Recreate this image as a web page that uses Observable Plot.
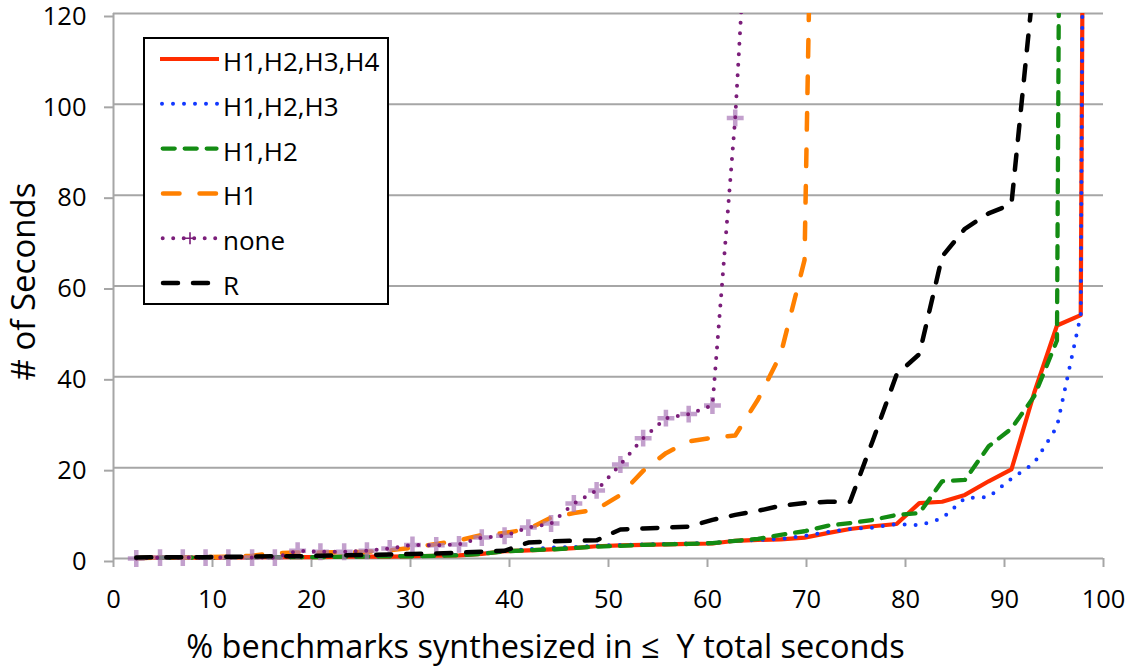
<!DOCTYPE html>
<html>
<head>
<meta charset="utf-8">
<script src="https://cdn.jsdelivr.net/npm/d3@7"></script>
<script src="https://cdn.jsdelivr.net/npm/@observablehq/plot@0.6"></script>
<style>
  html, body { margin: 0; padding: 0; background: #fff; }
  #wrap { position: relative; width: 1136px; height: 666px; font-family: "Open Sans", sans-serif; }
  #legend { position: absolute; left: 143px; top: 37px; }
</style>
</head>
<body>
<div id="wrap"></div>
<script>
// ---- data ----
const pct = [2.3, 4.7, 7.0, 9.3, 11.6, 14.0, 16.3, 18.6, 20.9, 23.3, 25.6, 27.9, 30.2,
             32.6, 34.9, 37.2, 39.5, 41.9, 44.2, 46.5, 48.8, 51.2, 53.5, 55.8, 58.1, 60.5,
             62.8, 65.1, 67.4, 69.8, 72.1, 74.4, 76.7, 79.1, 81.4, 83.7, 86.0, 88.4, 90.7,
             93.0, 95.3, 97.7, 100];
const seriesNames = ["H1,H2,H3,H4", "H1,H2,H3", "H1,H2", "H1", "none", "R"];
const h1234 = [0.1,0.2,0.2,0.2,0.2,0.3,0.3,0.3,0.3,0.4,0.4,0.4,0.5,
               0.6,0.7,1.0,1.6,1.8,2.0,2.3,2.7,2.9,3.0,3.1,3.2,3.3,
               3.9,4.1,4.2,4.6,5.6,6.5,7.1,7.6,12.2,12.5,14.0,17.0,19.6,36.5,51.3,53.6,1000];
const h123  = [0.1,0.2,0.2,0.2,0.2,0.3,0.3,0.3,0.3,0.4,0.4,0.5,0.5,
               0.6,0.8,1.1,1.7,2.0,2.4,2.5,2.8,3.0,3.1,3.2,3.3,3.4,
               3.9,4.1,4.3,5.0,5.8,6.5,6.8,7.6,7.3,8.8,13.3,13.5,17.6,21.0,29.0,53.6,1000];
const h12   = [0.1,0.2,0.2,0.2,0.2,0.3,0.3,0.3,0.3,0.4,0.4,0.5,0.5,
               0.6,0.7,1.0,1.6,1.8,2.0,2.3,2.6,2.8,3.0,3.1,3.2,3.4,
               3.9,4.3,5.2,6.0,7.2,7.8,8.5,9.6,10.0,17.0,17.3,24.7,28.6,35.7,48.0,1000];
const h1    = [0.1,0.2,0.2,0.3,0.4,0.6,1.2,1.3,1.3,1.4,1.5,1.8,2.4,
               3.2,4.0,5.2,5.6,6.5,9.0,10.0,10.8,14.0,19.3,23.2,25.8,26.6,
               27.1,35.0,45.0,65.7,350];
const none  = [0.0,0.2,0.2,0.2,0.2,0.2,0.2,1.7,1.5,1.5,1.7,2.2,3.0,
               2.9,3.1,4.6,5.0,6.8,7.7,12.1,15.0,20.7,26.5,30.9,31.8,33.7,
               97.0,186];
const rSer  = [0.2,0.3,0.3,0.3,0.4,0.4,0.5,0.5,0.6,0.7,0.8,0.9,1.0,
               1.1,1.3,1.5,1.7,3.5,3.8,3.9,4.0,6.4,6.6,6.8,7.0,8.5,
               9.6,10.5,11.6,12.2,12.5,12.5,26.0,40.5,45.0,66.5,72.6,76.0,78.0,128,400];
const yTicks = [0, 20, 40, 60, 80, 100, 120];
const xTicks = [0, 10, 20, 30, 40, 50, 60, 70, 80, 90, 100];
const xTitle = "% benchmarks synthesized in \u2264\u00a0 Y total seconds";
const yTitle = "# of Seconds";

// ---- styles ----
const seriesValues = [h1234, h123, h12, h1, none, rSer];
const styles = [
  {stroke: "#ff2d00", strokeWidth: 4.2, dash: null},
  {stroke: "#1238ff", strokeWidth: 4, dash: "0,11"},
  {stroke: "#138c13", strokeWidth: 4.3, dash: "12,10"},
  {stroke: "#ff8000", strokeWidth: 4.5, dash: "16.5,20"},
  {stroke: "#7b1e7a", strokeWidth: 4, dash: "0,10.5"},
  {stroke: "#000000", strokeWidth: 4.5, dash: "15,15"}
];
const gridColor = "#a6a6a6";

const tables = seriesValues.map((vals, s) =>
  vals.map((v, i) => ({series: seriesNames[s], pct: pct[i], v})));

const lineMarks = tables.map((t, s) => Plot.line(t, {
  x: "pct", y: "v",
  stroke: styles[s].stroke, strokeWidth: styles[s].strokeWidth,
  strokeDasharray: styles[s].dash || undefined,
  strokeLinecap: styles[s].dash ? "round" : "butt", strokeLinejoin: "round",
  clip: true
}));

const noneMarkers = Plot.dot(tables[4].filter(d => d.v <= 120), {
  x: "pct", y: "v", symbol: "plus", r: 5.5, stroke: "#a978b8", strokeWidth: 4.5, strokeOpacity: 0.7
});

const chart = Plot.plot({
  width: 1136, height: 666,
  marginLeft: 113, marginRight: 33, marginTop: 13, marginBottom: 108,
  style: {fontFamily: "'Open Sans', sans-serif", background: "#fff", color: "#000"},
  x: {domain: [0, 100]},
  y: {domain: [0, 120]},
  marks: [
    Plot.gridY(yTicks, {stroke: gridColor, strokeOpacity: 1, strokeWidth: 2}),
    Plot.ruleX([0], {stroke: gridColor, strokeWidth: 2}),
    Plot.axisY(yTicks, {tickSize: 9, tickPadding: 18, fontSize: 25.5, stroke: gridColor, strokeWidth: 2, fill: "#000", label: null, dy: 3}),
    Plot.axisX(xTicks, {tickSize: 9, tickPadding: 22, fontSize: 25.5, stroke: gridColor, strokeWidth: 2, fill: "#000", label: null}),
    lineMarks[0], lineMarks[1], lineMarks[2], lineMarks[3],
    noneMarkers, lineMarks[4], lineMarks[5],
    Plot.text([xTitle], {text: d => d, frameAnchor: "bottom-left", dx: 432, dy: 99, lineAnchor: "bottom", textAnchor: "middle", fontSize: 32.5, fill: "#000"}),
    Plot.text([yTitle], {text: d => d, frameAnchor: "left", dx: -89, dy: -4.5, rotate: -90, textAnchor: "middle", lineAnchor: "middle", fontSize: 33, fill: "#000"})
  ]
});
// let lines near y=0 draw fully over the x axis (only the top edge should clip)
chart.querySelectorAll("clipPath rect").forEach(r => {
  r.setAttribute("height", +r.getAttribute("height") + 12);
});
const wrap = document.getElementById("wrap");
wrap.appendChild(chart);

// ---- legend overlay ----
const lw = 246, lh = 268;
const ns = "http://www.w3.org/2000/svg";
const leg = document.createElementNS(ns, "svg");
leg.setAttribute("id", "legend");
leg.setAttribute("width", lw);
leg.setAttribute("height", lh);
const mk = (tag, attrs) => { const e = document.createElementNS(ns, tag); for (const k in attrs) e.setAttribute(k, attrs[k]); leg.appendChild(e); return e; };
mk("rect", {x: 1, y: 1, width: lw - 2, height: lh - 2, fill: "#fff", stroke: "#000", "stroke-width": 2});
const legX1 = [17, 19, 19.7, 20, 19.7, 20], legX2 = [76, 76, 73.5, 74, 76, 74];
seriesNames.forEach((name, i) => {
  const cy = 22 + 44.8 * i;
  const st = styles[i];
  const a = {x1: legX1[i], x2: legX2[i], y1: cy, y2: cy, stroke: st.stroke, "stroke-width": st.strokeWidth,
             "stroke-linecap": st.dash ? "round" : "butt"};
  if (st.dash) a["stroke-dasharray"] = st.dash;
  mk("line", a);
  if (name === "none") {
    mk("path", {d: `M${47 - 6},${cy}h12M47,${cy - 6}v12`, stroke: "#7b1e7a", "stroke-width": 1.6, fill: "none"});
  }
  const t = mk("text", {x: 80, y: cy + 2, "dominant-baseline": "central", "font-size": 26, "font-family": "'Open Sans', sans-serif", fill: "#000"});
  t.textContent = name;
});
wrap.appendChild(leg);
</script>
</body>
</html>
